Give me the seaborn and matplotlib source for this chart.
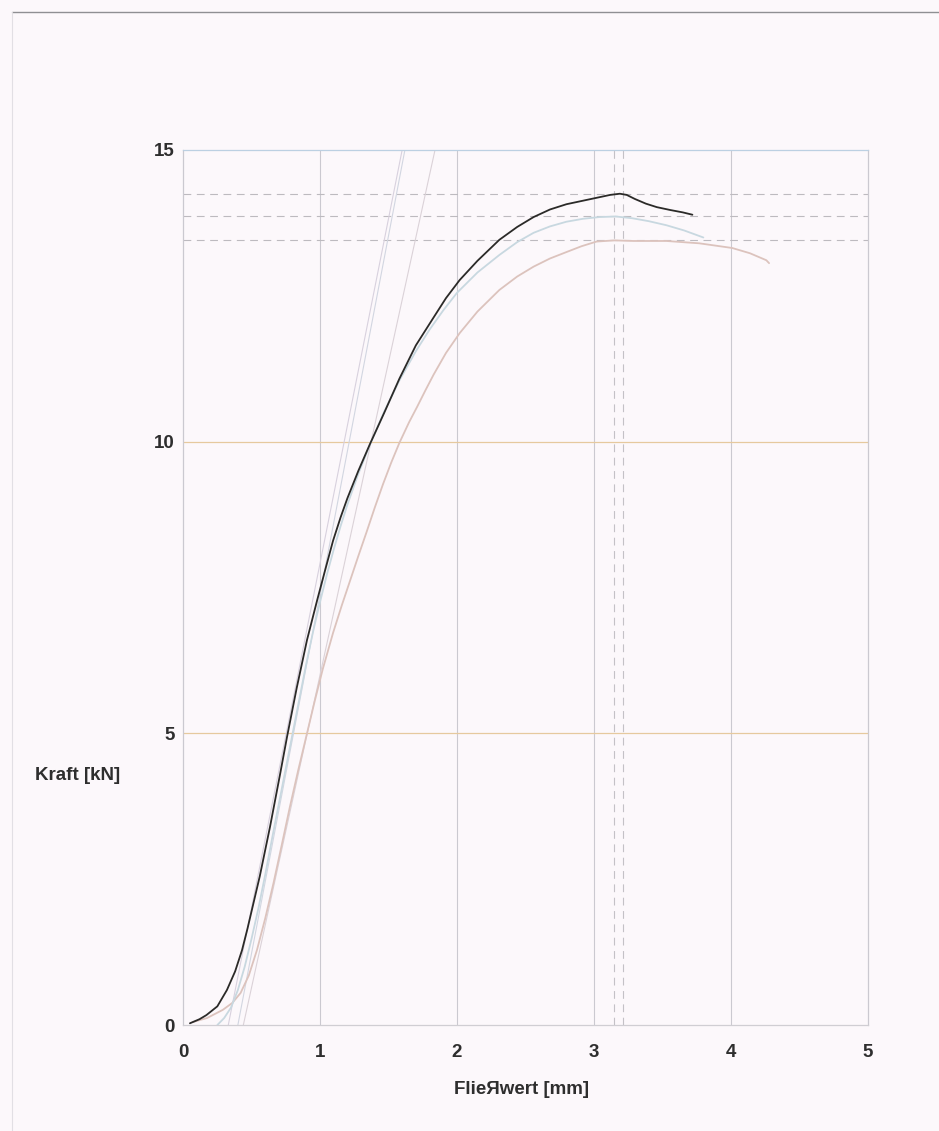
import numpy as np
import pandas as pd
import matplotlib
matplotlib.use("Agg")
import matplotlib.pyplot as plt
from matplotlib.lines import Line2D
import seaborn as sns

# Force / flow curves of three specimens (Fließwert in mm, Kraft in kN)
x_black = [0.05, 0.12, 0.17, 0.25, 0.32, 0.38, 0.43, 0.47, 0.51, 0.56, 0.635, 0.71, 0.76,
           0.83, 0.905, 0.98, 1.04, 1.095, 1.15, 1.20, 1.28, 1.365, 1.47, 1.58, 1.70,
           1.83, 1.92, 2.02, 2.15, 2.31, 2.44, 2.56, 2.68, 2.80, 2.92, 3.04, 3.12, 3.19,
           3.24, 3.30, 3.38, 3.46, 3.56, 3.65, 3.72]
y_black = [0.03, 0.10, 0.17, 0.32, 0.60, 0.92, 1.28, 1.65, 2.05, 2.55, 3.40, 4.32, 4.95,
           5.78, 6.60, 7.29, 7.82, 8.30, 8.70, 9.03, 9.50, 9.96, 10.50, 11.08, 11.65,
           12.13, 12.46, 12.77, 13.10, 13.46, 13.68, 13.85, 13.98, 14.07, 14.13, 14.19, 14.23, 14.25,
           14.23, 14.16, 14.08, 14.02, 13.97, 13.93, 13.89]

x_blue = [0.25, 0.30, 0.35, 0.40, 0.45, 0.50, 0.55, 0.60, 0.65, 0.70, 0.75, 0.80, 0.85,
          0.90, 0.95, 1.00, 1.05, 1.10, 1.15, 1.20, 1.28, 1.37, 1.47, 1.58, 1.70, 1.80,
          1.90, 2.00, 2.15, 2.31, 2.44, 2.56, 2.68, 2.80, 2.92, 3.04, 3.16, 3.28, 3.40,
          3.53, 3.66, 3.80]
y_blue = [0.00, 0.12, 0.30, 0.60, 1.00, 1.48, 2.00, 2.58, 3.20, 3.80, 4.40, 5.00, 5.60,
          6.20, 6.75, 7.25, 7.72, 8.15, 8.55, 8.92, 9.45, 9.98, 10.52, 11.05, 11.55, 11.92,
          12.25, 12.55, 12.90, 13.20, 13.42, 13.58, 13.69, 13.77, 13.82, 13.85, 13.86, 13.83, 13.78,
          13.71, 13.62, 13.50]

x_pink = [0.07, 0.175, 0.29, 0.36, 0.42, 0.48, 0.54, 0.60, 0.66, 0.72, 0.78, 0.84, 0.905,
          0.96, 1.02, 1.095, 1.16, 1.22, 1.28, 1.34, 1.40, 1.46, 1.52, 1.58, 1.65, 1.71,
          1.77, 1.83, 1.92, 2.02, 2.15, 2.31, 2.44, 2.56, 2.68, 2.80, 2.91, 3.02, 3.15,
          3.29, 3.41, 3.53, 3.65, 3.77, 3.89, 4.01, 4.14, 4.26, 4.28]
y_pink = [0.05, 0.12, 0.26, 0.38, 0.55, 0.85, 1.29, 1.83, 2.43, 3.08, 3.74, 4.36, 5.00,
          5.54, 6.10, 6.72, 7.20, 7.62, 8.04, 8.45, 8.87, 9.27, 9.64, 9.98, 10.33, 10.60,
          10.88, 11.15, 11.52, 11.86, 12.23, 12.60, 12.83, 13.00, 13.14, 13.25, 13.35, 13.43, 13.45,
          13.44, 13.44, 13.44, 13.42, 13.40, 13.36, 13.32, 13.23, 13.11, 13.06]

# Stiffness tangents: x-intercept and end point at the top of the scale
tangent_x0 = [0.33, 0.40, 0.44]
tangent_x1 = [1.60, 1.62, 1.84]
tangent_ytop = 15.0

# Maximum forces and their positions
max_forces = [14.25, 13.87, 13.46]
max_positions = [3.15, 3.21]

x_ticks = [0, 1, 2, 3, 4, 5]
y_ticks = [0, 5, 10, 15]

curves = pd.concat([
    pd.DataFrame({"s": x_black, "F": y_black, "Probe": "1"}),
    pd.DataFrame({"s": x_blue, "F": y_blue, "Probe": "2"}),
    pd.DataFrame({"s": x_pink, "F": y_pink, "Probe": "3"}),
], ignore_index=True)

tangents = pd.concat([
    pd.DataFrame({"s": [a, b], "F": [0.0, tangent_ytop], "T": f"t{i}"})
    for i, (a, b) in enumerate(zip(tangent_x0, tangent_x1))
], ignore_index=True)

sns.set_style("white")
plt.rcParams["font.family"] = ["Liberation Sans", "DejaVu Sans"]

bg = "#fcf8fb"
fig = plt.figure(figsize=(9.39, 11.31), dpi=100, facecolor=bg)
ax = fig.add_axes([0.195, 0.0937, 0.729, 0.7737])
ax.set_facecolor(bg)

# grid
for xv in x_ticks[1:-1]:
    ax.axvline(xv, color="#cbc9d0", lw=0.8, zorder=0)
for yv in [5, 10]:
    ax.axhline(yv, color="#e6c99e", lw=0.9, zorder=0)

# maximum force markers
for yv in max_forces:
    ax.axhline(yv, color="#bdbabf", lw=0.8, ls=(0, (7, 5)), zorder=1)
for xv in max_positions:
    ax.axvline(xv, color="#c4c1c6", lw=0.8, ls=(0, (7, 5)), zorder=1)

sns.lineplot(data=tangents, x="s", y="F", hue="T",
             palette=["#d8d1de", "#d2d6e1", "#dbd2d8"], lw=0.8,
             legend=False, ax=ax, sort=False, zorder=2)

sns.lineplot(data=curves, x="s", y="F", hue="Probe",
             hue_order=["3", "2", "1"],
             palette={"1": "#2b2a28", "2": "#c8d8e0", "3": "#dcc3bd"},
             lw=1.3, legend=False, ax=ax, sort=False, zorder=3)

ax.set_xlim(0, 5)
ax.set_ylim(0, 15)
ax.set_xticks(x_ticks)
ax.set_yticks(y_ticks)
ax.tick_params(length=0, labelsize=13.5, colors="#2e2e2e")
ax.tick_params(axis="x", pad=14)
ax.tick_params(axis="y", pad=6)
for lab in ax.get_xticklabels() + ax.get_yticklabels():
    lab.set_fontweight("bold")
ax.set_xlabel("")
ax.set_ylabel("")

for side, col in {"left": "#cbc9d0", "bottom": "#d0ced3", "right": "#cbc9d0", "top": "#bcd0e2"}.items():
    ax.spines[side].set_visible(True)
    ax.spines[side].set_color(col)
    ax.spines[side].set_linewidth(0.9)

fig.text(0.555, 1 - 1090 / 1131, "FlieЯwert [mm]", ha="center", va="center",
         fontsize=13.5, fontweight="bold", color="#2e2e2e")
fig.text(0.083, 1 - 775 / 1131, "Kraft [kN]", ha="center", va="center",
         fontsize=13.5, fontweight="bold", color="#2e2e2e")

# sheet edges
fig.add_artist(Line2D([12 / 939, 1.0], [1 - 12 / 1131, 1 - 12 / 1131],
                      transform=fig.transFigure, color="#8f8f93", lw=1.0))
fig.add_artist(Line2D([12 / 939, 12 / 939], [0.0, 1 - 12 / 1131],
                      transform=fig.transFigure, color="#e2dfe4", lw=0.8))

fig.savefig("out.png", dpi=100, facecolor=bg)
